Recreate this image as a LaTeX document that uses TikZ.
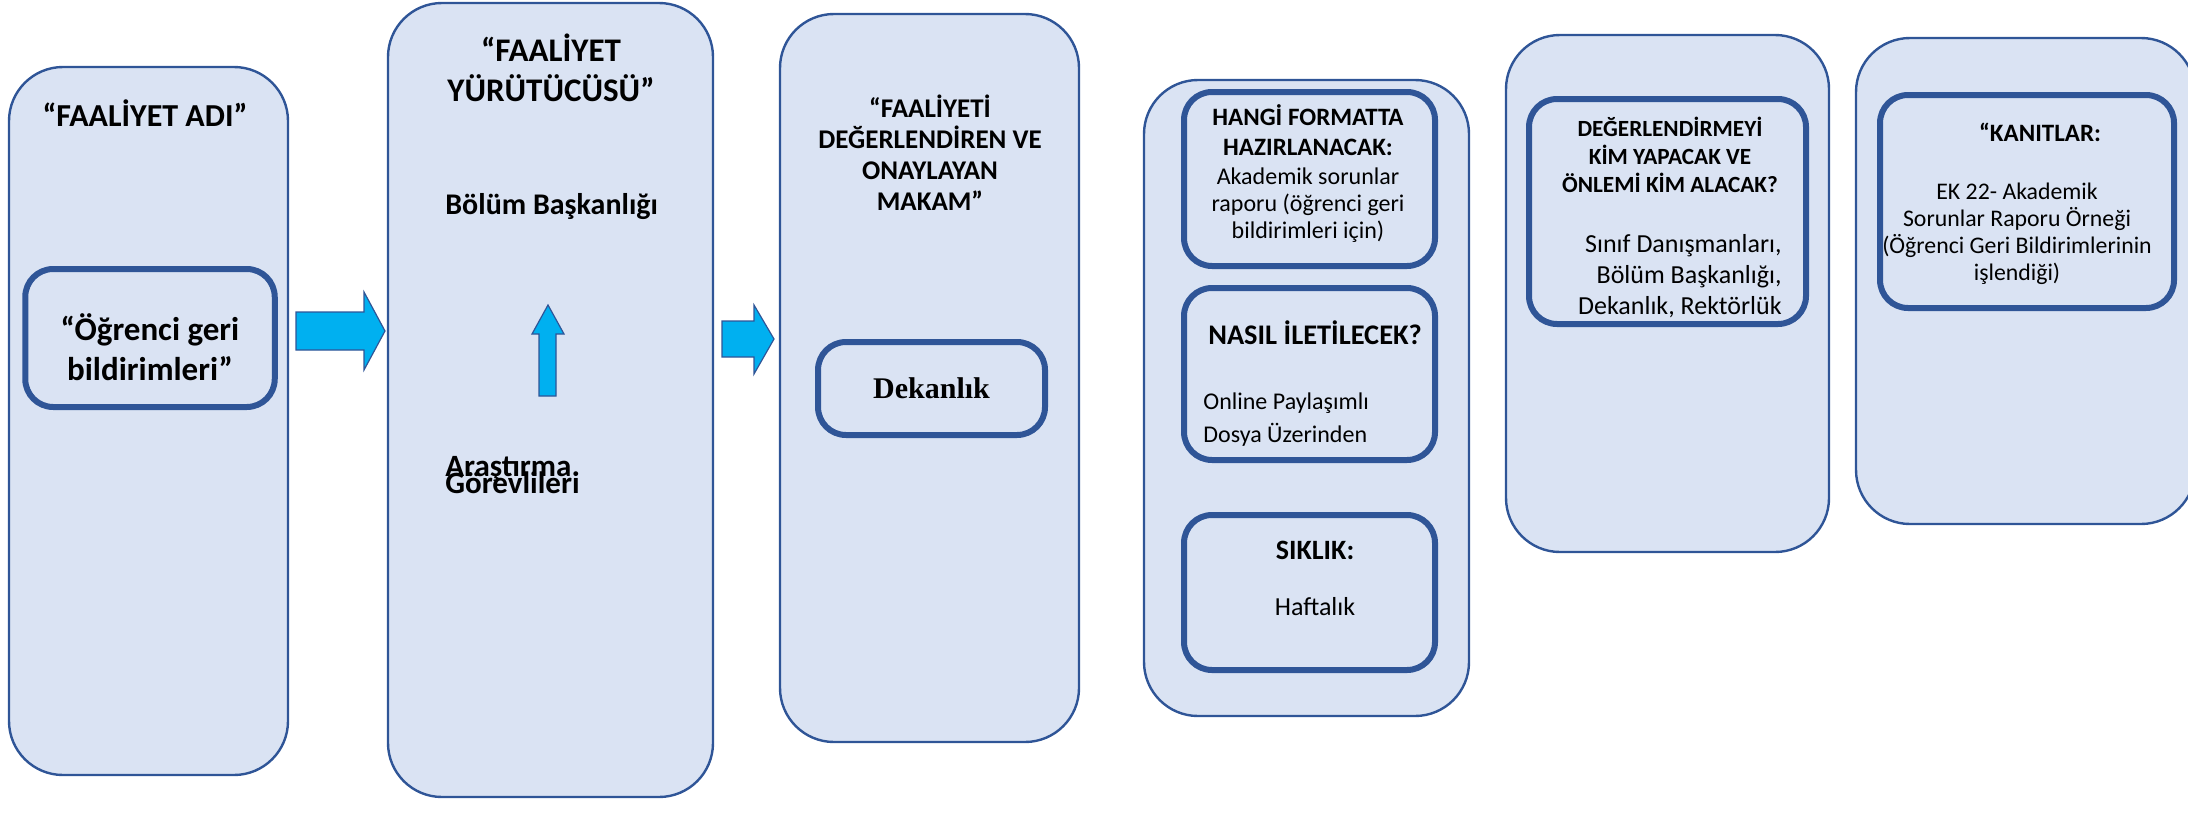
\documentclass[tikz,border=0pt]{standalone}
\usepackage{fontspec}
\setmainfont{Carlito}
\newfontfamily\timesbold[BoldFont={Liberation Serif Bold}]{Liberation Serif}
\definecolor{boxfill}{HTML}{DAE3F3}
\definecolor{boxline}{HTML}{2F5597}
\definecolor{arrowfill}{HTML}{00B0F0}
\newcommand{\tightlines}{\lineskiplimit=-50pt\relax\lineskip=0pt\relax}

\begin{document}
\begin{tikzpicture}[x=0.5pt,y=-0.5pt]
    % Define the styles for the columns, inner boxes and arrows
    \tikzstyle{column}=[rectangle, rounded corners=27pt, draw=boxline, line width=1.2pt, fill=boxfill, inner sep=0pt]
    \tikzstyle{innerbox}=[rectangle, rounded corners=14pt, draw=boxline, line width=3pt, inner sep=0pt, align=center]
    \tikzstyle{blockarrow}=[draw=boxline, line width=0.6pt, fill=arrowfill]
    \tikzstyle{title}=[align=center, inner sep=0pt, font=\bfseries\fontsize{13.5}{15.5}\selectfont]
    \tikzstyle{plain}=[align=center, inner sep=0pt, font=\fontsize{12}{13.5}\selectfont]

    \useasboundingbox (0,0) rectangle (2188,819);
    \clip (0,0) rectangle (2188,819);

    % Draw the columns
    \node[column, minimum width=139.5pt, minimum height=354pt] (col_adi) at (148.5, 421) {};
    \node[column, minimum width=162.5pt, minimum height=397pt] (col_yurutucu) at (550.5, 400) {};
    \node[column, minimum width=149.5pt, minimum height=364pt] (col_makam) at (929.5, 378) {};
    \node[column, minimum width=162.5pt, minimum height=318pt] (col_format) at (1306.5, 398) {};
    \node[column, minimum width=161.5pt, minimum height=258.5pt] (col_kim) at (1667.5, 293.5) {};
    \node[column, minimum width=169.5pt, minimum height=243pt] (col_kanit) at (2025.5, 281) {};

    % Draw the inner boxes
    \node[innerbox, minimum width=124.75pt, minimum height=69pt] (in_ogrenci) at (150, 338) {};
    \node[innerbox, minimum width=113.5pt, minimum height=46.5pt, font=\timesbold\bfseries\fontsize{15}{17}\selectfont] (in_dekanlik) at (931.5, 388.5) {Dekanlık};
    \node[innerbox, minimum width=125.5pt, minimum height=87pt] (in_format) at (1309.5, 179) {};
    \node[innerbox, minimum width=125.5pt, minimum height=86pt] (in_nasil) at (1309.5, 374) {};
    \node[innerbox, minimum width=125.5pt, minimum height=77.5pt] (in_siklik) at (1309.5, 592.5) {};
    \node[innerbox, minimum width=138.5pt, minimum height=112.5pt] (in_kim) at (1667.5, 211.5) {};
    \node[innerbox, minimum width=147pt, minimum height=106.5pt] (in_kanit) at (2027, 201.5) {};

    % Draw the texts
    \node[title, font=\bfseries\fontsize{16}{20}\selectfont] (t_adi) at (145, 113) {“FAALİYET ADI”};
    \node[title, font=\bfseries\fontsize{16.5}{20}\selectfont] (t_ogrenci) at (150, 347) {“Öğrenci geri\\bildirimleri”};
    \node[title, font=\bfseries\fontsize{16.5}{20}\selectfont] (t_yurutucu) at (551, 68) {“FAALİYET\\YÜRÜTÜCÜSÜ”};
    \node[title, anchor=west, font=\bfseries\fontsize{15}{17}\selectfont] (t_bolum) at (445, 207) {Bölüm Başkanlığı};
    \node[title, anchor=west, align=left, font=\bfseries\fontsize{15.5}{8.5}\selectfont\tightlines] (t_arastirma) at (445, 475) {Araştırma\\Görevlileri};
    \node[title] (t_makam) at (930, 153) {“FAALİYETİ\\DEĞERLENDİREN VE\\ONAYLAYAN\\MAKAM”};
    \node[title, font=\bfseries\fontsize{12.5}{15}\selectfont] (t_format) at (1308, 130) {HANGİ FORMATTA\\HAZIRLANACAK:};
    \node[plain] (t_rapor) at (1308, 205) {Akademik sorunlar\\raporu (öğrenci geri\\bildirimleri için)};
    \node[title, font=\bfseries\fontsize{14.2}{16}\selectfont] (t_nasil) at (1315, 333) {NASIL İLETİLECEK?};
    \node[plain, anchor=west, align=left, font=\fontsize{12}{16.5}\selectfont] (t_online) at (1203, 419.5) {Online Paylaşımlı\\Dosya Üzerinden};
    \node[title, font=\bfseries\fontsize{14}{16}\selectfont] (t_siklik) at (1315, 550) {SIKLIK:};
    \node[plain, font=\fontsize{13}{15}\selectfont] (t_haftalik) at (1315, 607) {Haftalık};
    \node[title, font=\bfseries\fontsize{11.6}{14}\selectfont] (t_kim) at (1670, 155) {DEĞERLENDİRMEYİ\\KİM YAPACAK VE\\ÖNLEMİ KİM ALACAK?};
    \node[plain, anchor=east, align=right, font=\fontsize{13}{15.5}\selectfont] (t_danisman) at (1782, 276) {Sınıf Danışmanları,\\Bölüm Başkanlığı,\\Dekanlık, Rektörlük};
    \node[title, font=\bfseries\fontsize{12.5}{14}\selectfont] (t_kanit) at (2040, 132) {“KANITLAR:};
    \node[plain, font=\fontsize{11.9}{13.5}\selectfont] (t_ek) at (2017, 234) {EK 22- Akademik\\Sorunlar Raporu Örneği\\(Öğrenci Geri Bildirimlerinin\\işlendiği)};

    % Draw the block arrows
    \draw[blockarrow] (296,312) -- (364,312) -- (364,292) -- (385,331) -- (364,370) -- (364,350) -- (296,350) -- cycle;
    \draw[blockarrow] (539,396) -- (539,334) -- (532,334) -- (548,305) -- (564,334) -- (556,334) -- (556,396) -- cycle;
    \draw[blockarrow] (722,321) -- (754,321) -- (754,305) -- (774,339) -- (754,374) -- (754,357) -- (722,357) -- cycle;
\end{tikzpicture}
\end{document}
